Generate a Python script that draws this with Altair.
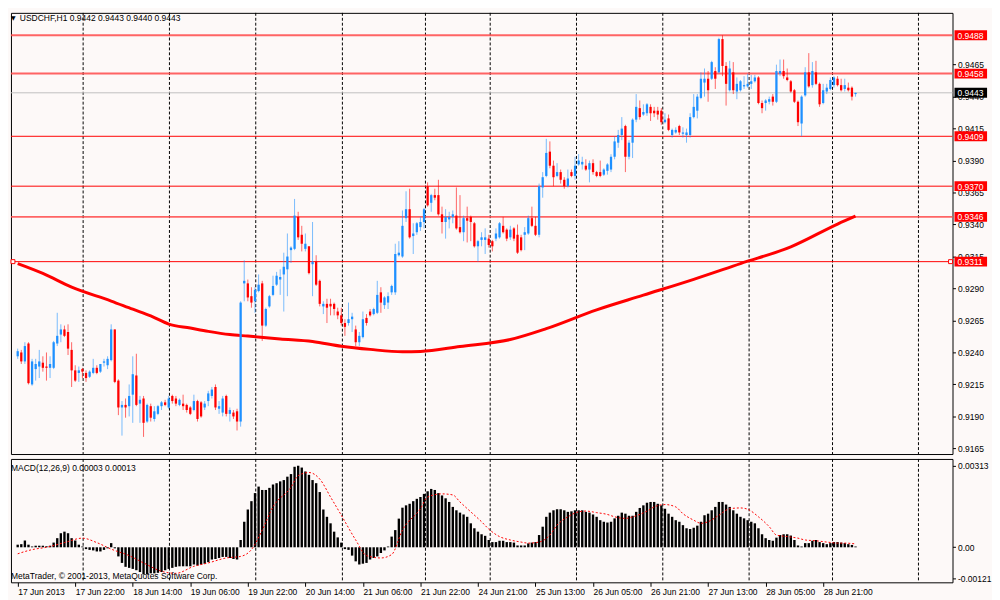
import json
import altair as alt
import pandas as pd

# ---------------- data ----------------
opens = [
0.9237, 0.9240, 0.9233, 0.9247, 0.9215, 0.9227, 0.9229, 0.9232, 0.9229, 0.9228,
0.9228, 0.9247, 0.9254, 0.9258, 0.9256, 0.9242, 0.9226, 0.9224, 0.9227, 0.9224,
0.9221, 0.9224, 0.9228, 0.9225, 0.9232, 0.9230, 0.9234, 0.9258, 0.9218, 0.9197,
0.9199, 0.9198, 0.9207, 0.9222, 0.9200, 0.9204, 0.9186, 0.9198, 0.9188, 0.9192,
0.9198, 0.9201, 0.9197, 0.9206, 0.9204, 0.9199, 0.9200, 0.9199, 0.9197, 0.9195,
0.9202, 0.9201, 0.9197, 0.9202, 0.9206, 0.9213, 0.9196, 0.9193, 0.9206, 0.9192,
0.9193, 0.9194, 0.9186, 0.9294, 0.9294, 0.9284, 0.9280, 0.9288, 0.9294, 0.9261,
0.9276, 0.9285, 0.9293, 0.9297, 0.9301, 0.9305, 0.9320, 0.9321, 0.9346, 0.9332,
0.9321, 0.9323, 0.9309, 0.9311, 0.9296, 0.9276, 0.9278, 0.9278, 0.9278, 0.9272,
0.9269, 0.9263, 0.9263, 0.9266, 0.9258, 0.9248, 0.9252, 0.9267, 0.9272, 0.9270,
0.9271, 0.9287, 0.9277, 0.9279, 0.9287, 0.9287, 0.9316, 0.9315, 0.9345, 0.9352,
0.9331, 0.9334, 0.9338, 0.9342, 0.9370, 0.9357, 0.9363, 0.9363, 0.9348, 0.9342,
0.9344, 0.9346, 0.9347, 0.9338, 0.9334, 0.9345, 0.9346, 0.9341, 0.9323, 0.9328,
0.9328, 0.9329, 0.9327, 0.9329, 0.9330, 0.9339, 0.9336, 0.9330, 0.9337, 0.9332,
0.9330, 0.9332, 0.9333, 0.9345, 0.9339, 0.9332, 0.9369, 0.9378, 0.9397, 0.9386,
0.9378, 0.9381, 0.9375, 0.9370, 0.9381, 0.9378, 0.9387, 0.9387, 0.9386, 0.9383,
0.9388, 0.9381, 0.9381, 0.9379, 0.9382, 0.9383, 0.9393, 0.9404, 0.9410, 0.9417,
0.9393, 0.9404, 0.9422, 0.9431, 0.9426, 0.9427, 0.9432, 0.9429, 0.9429, 0.9429,
0.9420, 0.9423, 0.9410, 0.9412, 0.9417, 0.9411, 0.9410, 0.9410, 0.9424, 0.9429,
0.9439, 0.9451, 0.9454, 0.9454, 0.9460, 0.9459, 0.9485, 0.9464, 0.9445, 0.9459,
0.9444, 0.9445, 0.9448, 0.9448, 0.9450, 0.9452, 0.9455, 0.9435, 0.9435, 0.9436,
0.9440, 0.9436, 0.9458, 0.9460, 0.9455, 0.9452, 0.9445, 0.9436, 0.9419, 0.9441,
0.9459, 0.9449, 0.9459, 0.9450, 0.9435, 0.9444, 0.9446, 0.9449, 0.9454, 0.9449,
0.9446, 0.9447, 0.9447, 0.9442]

closes = [
0.9241, 0.9233, 0.9245, 0.9216, 0.9233, 0.9231, 0.9233, 0.9228, 0.9228, 0.9231,
0.9248, 0.9253, 0.9258, 0.9253, 0.9243, 0.9226, 0.9218, 0.9226, 0.9225, 0.9220,
0.9225, 0.9228, 0.9224, 0.9231, 0.9233, 0.9235, 0.9258, 0.9217, 0.9197, 0.9199,
0.9197, 0.9206, 0.9223, 0.9199, 0.9203, 0.9185, 0.9199, 0.9189, 0.9194, 0.9198,
0.9201, 0.9199, 0.9204, 0.9202, 0.9200, 0.9203, 0.9198, 0.9195, 0.9192, 0.9202,
0.9188, 0.9190, 0.9200, 0.9208, 0.9211, 0.9197, 0.9198, 0.9204, 0.9192, 0.9195,
0.9190, 0.9186, 0.9279, 0.9296, 0.9283, 0.9279, 0.9289, 0.9293, 0.9261, 0.9274,
0.9284, 0.9292, 0.9300, 0.9299, 0.9307, 0.9315, 0.9322, 0.9347, 0.9330, 0.9325,
0.9325, 0.9302, 0.9311, 0.9293, 0.9278, 0.9278, 0.9275, 0.9276, 0.9274, 0.9269,
0.9263, 0.9260, 0.9266, 0.9268, 0.9248, 0.9253, 0.9266, 0.9263, 0.9269, 0.9274,
0.9285, 0.9279, 0.9283, 0.9284, 0.9292, 0.9317, 0.9318, 0.9339, 0.9352, 0.9330,
0.9333, 0.9341, 0.9342, 0.9352, 0.9355, 0.9363, 0.9361, 0.9348, 0.9342, 0.9346,
0.9346, 0.9348, 0.9337, 0.9334, 0.9345, 0.9343, 0.9342, 0.9323, 0.9327, 0.9330,
0.9330, 0.9324, 0.9323, 0.9333, 0.9341, 0.9334, 0.9329, 0.9336, 0.9329, 0.9318,
0.9320, 0.9334, 0.9345, 0.9339, 0.9332, 0.9370, 0.9377, 0.9396, 0.9386, 0.9377,
0.9381, 0.9375, 0.9370, 0.9376, 0.9378, 0.9386, 0.9390, 0.9389, 0.9383, 0.9388,
0.9381, 0.9378, 0.9378, 0.9383, 0.9387, 0.9393, 0.9405, 0.9410, 0.9415, 0.9393,
0.9404, 0.9422, 0.9432, 0.9424, 0.9428, 0.9434, 0.9427, 0.9427, 0.9426, 0.9420,
0.9422, 0.9414, 0.9414, 0.9414, 0.9412, 0.9412, 0.9412, 0.9424, 0.9432, 0.9440,
0.9454, 0.9454, 0.9445, 0.9467, 0.9454, 0.9485, 0.9464, 0.9450, 0.9462, 0.9445,
0.9450, 0.9452, 0.9449, 0.9450, 0.9452, 0.9455, 0.9435, 0.9431, 0.9437, 0.9438,
0.9436, 0.9460, 0.9460, 0.9456, 0.9453, 0.9444, 0.9436, 0.9420, 0.9440, 0.9459,
0.9448, 0.9460, 0.9450, 0.9434, 0.9445, 0.9447, 0.9453, 0.9455, 0.9449, 0.9445,
0.9449, 0.9445, 0.9440, 0.9443]

highs = [
0.9243, 0.9242, 0.9248, 0.9248, 0.9235, 0.9235, 0.9242, 0.9237, 0.9240, 0.9237,
0.9249, 0.9271, 0.9262, 0.9261, 0.9262, 0.9248, 0.9230, 0.9229, 0.9228, 0.9226,
0.9226, 0.9235, 0.9230, 0.9231, 0.9235, 0.9237, 0.9262, 0.9258, 0.9219, 0.9202,
0.9204, 0.9215, 0.9237, 0.9239, 0.9206, 0.9206, 0.9200, 0.9200, 0.9198, 0.9199,
0.9202, 0.9203, 0.9206, 0.9207, 0.9206, 0.9204, 0.9207, 0.9200, 0.9198, 0.9207,
0.9203, 0.9202, 0.9202, 0.9210, 0.9213, 0.9215, 0.9202, 0.9206, 0.9207, 0.9197,
0.9195, 0.9196, 0.9280, 0.9312, 0.9297, 0.9291, 0.9291, 0.9301, 0.9296, 0.9275,
0.9285, 0.9300, 0.9303, 0.9305, 0.9318, 0.9333, 0.9323, 0.9360, 0.9350, 0.9339,
0.9333, 0.9323, 0.9342, 0.9316, 0.9297, 0.9280, 0.9282, 0.9282, 0.9279, 0.9275,
0.9275, 0.9266, 0.9279, 0.9271, 0.9261, 0.9256, 0.9272, 0.9270, 0.9274, 0.9275,
0.9296, 0.9291, 0.9284, 0.9287, 0.9293, 0.9325, 0.9327, 0.9351, 0.9366, 0.9368,
0.9341, 0.9342, 0.9346, 0.9353, 0.9373, 0.9364, 0.9368, 0.9375, 0.9354, 0.9352,
0.9350, 0.9351, 0.9369, 0.9363, 0.9347, 0.9354, 0.9347, 0.9342, 0.9328, 0.9334,
0.9337, 0.9332, 0.9328, 0.9337, 0.9342, 0.9346, 0.9337, 0.9339, 0.9338, 0.9340,
0.9332, 0.9338, 0.9347, 0.9354, 0.9346, 0.9372, 0.9381, 0.9407, 0.9405, 0.9390,
0.9388, 0.9383, 0.9377, 0.9383, 0.9383, 0.9393, 0.9395, 0.9393, 0.9391, 0.9390,
0.9391, 0.9382, 0.9390, 0.9384, 0.9388, 0.9395, 0.9409, 0.9414, 0.9424, 0.9418,
0.9406, 0.9423, 0.9442, 0.9437, 0.9434, 0.9435, 0.9434, 0.9432, 0.9432, 0.9431,
0.9427, 0.9426, 0.9415, 0.9416, 0.9418, 0.9416, 0.9415, 0.9427, 0.9442, 0.9442,
0.9459, 0.9462, 0.9460, 0.9468, 0.9463, 0.9486, 0.9488, 0.9467, 0.9468, 0.9467,
0.9455, 0.9453, 0.9456, 0.9458, 0.9457, 0.9457, 0.9456, 0.9437, 0.9438, 0.9440,
0.9442, 0.9465, 0.9469, 0.9469, 0.9462, 0.9453, 0.9446, 0.9437, 0.9441, 0.9463,
0.9474, 0.9467, 0.9468, 0.9451, 0.9450, 0.9450, 0.9455, 0.9456, 0.9456, 0.9454,
0.9454, 0.9451, 0.9448, 0.9443]

lows = [
0.9235, 0.9231, 0.9231, 0.9215, 0.9214, 0.9218, 0.9220, 0.9225, 0.9218, 0.9220,
0.9227, 0.9245, 0.9248, 0.9252, 0.9238, 0.9213, 0.9217, 0.9217, 0.9220, 0.9217,
0.9220, 0.9223, 0.9223, 0.9224, 0.9229, 0.9227, 0.9233, 0.9216, 0.9191, 0.9175,
0.9189, 0.9190, 0.9185, 0.9198, 0.9185, 0.9174, 0.9185, 0.9186, 0.9186, 0.9191,
0.9195, 0.9198, 0.9196, 0.9200, 0.9198, 0.9198, 0.9195, 0.9193, 0.9191, 0.9194,
0.9186, 0.9189, 0.9195, 0.9198, 0.9204, 0.9195, 0.9192, 0.9190, 0.9190, 0.9186,
0.9188, 0.9179, 0.9182, 0.9280, 0.9280, 0.9275, 0.9271, 0.9287, 0.9249, 0.9260,
0.9275, 0.9284, 0.9292, 0.9285, 0.9272, 0.9284, 0.9310, 0.9320, 0.9328, 0.9319,
0.9319, 0.9301, 0.9284, 0.9292, 0.9276, 0.9270, 0.9263, 0.9269, 0.9269, 0.9266,
0.9261, 0.9253, 0.9261, 0.9256, 0.9245, 0.9245, 0.9251, 0.9261, 0.9268, 0.9269,
0.9270, 0.9271, 0.9274, 0.9274, 0.9285, 0.9285, 0.9315, 0.9314, 0.9342, 0.9329,
0.9317, 0.9332, 0.9335, 0.9337, 0.9354, 0.9350, 0.9359, 0.9347, 0.9333, 0.9329,
0.9337, 0.9341, 0.9336, 0.9333, 0.9327, 0.9326, 0.9327, 0.9322, 0.9311, 0.9323,
0.9317, 0.9322, 0.9319, 0.9327, 0.9329, 0.9333, 0.9327, 0.9328, 0.9327, 0.9317,
0.9319, 0.9320, 0.9332, 0.9338, 0.9331, 0.9330, 0.9361, 0.9377, 0.9384, 0.9370,
0.9377, 0.9372, 0.9368, 0.9369, 0.9377, 0.9375, 0.9386, 0.9383, 0.9382, 0.9373,
0.9379, 0.9377, 0.9377, 0.9378, 0.9379, 0.9381, 0.9391, 0.9400, 0.9406, 0.9381,
0.9391, 0.9392, 0.9420, 0.9422, 0.9425, 0.9425, 0.9421, 0.9424, 0.9422, 0.9418,
0.9419, 0.9413, 0.9408, 0.9411, 0.9410, 0.9408, 0.9404, 0.9408, 0.9423, 0.9423,
0.9438, 0.9440, 0.9436, 0.9453, 0.9446, 0.9458, 0.9456, 0.9433, 0.9444, 0.9442,
0.9438, 0.9444, 0.9446, 0.9447, 0.9446, 0.9451, 0.9434, 0.9427, 0.9429, 0.9434,
0.9433, 0.9435, 0.9456, 0.9454, 0.9452, 0.9443, 0.9435, 0.9417, 0.9409, 0.9440,
0.9447, 0.9447, 0.9449, 0.9432, 0.9434, 0.9442, 0.9445, 0.9447, 0.9448, 0.9444,
0.9444, 0.9444, 0.9437, 0.9440]

# MACD main line (histogram) in units of 1e-5
macd_e5 = [
10, 12, 26, 10, 3, 6, 6, 6, 4, 6,
18, 35, 54, 60, 54, 35, 26, 10, 3, -7,
-10, -12, -16, -16, -10, -4, 16, -4, -35, -60,
-75, -79, -83, -88, -95, -104, -104, -100, -100, -98,
-95, -88, -83, -79, -75, -73, -73, -73, -73, -66,
-70, -66, -63, -57, -47, -45, -41, -37, -37, -41,
-45, -47, 28, 98, 145, 177, 208, 233, 220, 220,
228, 241, 246, 253, 258, 271, 281, 309, 313, 306,
291, 278, 258, 246, 212, 145, 117, 92, 60, 38,
18, -7, -10, -32, -54, -66, -63, -60, -47, -41,
-35, -22, -12, 3, 41, 66, 110, 152, 161, 167,
177, 186, 193, 205, 215, 224, 220, 208, 199, 188,
174, 155, 142, 133, 126, 117, 92, 73, 60, 50,
44, 28, 20, 20, 25, 25, 20, 20, 18, 7,
7, 7, 15, 18, 20, 47, 79, 117, 133, 142,
146, 146, 142, 136, 138, 142, 142, 142, 136, 133,
126, 117, 104, 98, 95, 98, 111, 121, 133, 129,
121, 121, 136, 151, 161, 171, 174, 174, 167, 161,
148, 129, 117, 104, 98, 85, 73, 70, 75, 83,
98, 123, 129, 142, 155, 174, 174, 164, 155, 142,
129, 117, 111, 104, 98, 92, 73, 50, 35, 28,
25, 37, 47, 50, 50, 45, 28, 7, 3, 16,
16, 25, 28, 20, 16, 12, 16, 20, 20, 18,
16, 12, 9, 3]

# MACD signal line, sampled (bar index, value in 1e-5)
signal_bar = [0, 4, 8, 13, 18, 22, 26, 31, 35, 40, 44, 49, 53, 58, 62, 65, 68, 71, 76, 78,
              81, 84, 87, 90, 94, 97, 101, 104, 107, 112, 114, 118, 121, 123, 126, 129, 131, 134, 137, 140,
              142, 145, 148, 150, 153, 156, 158, 161, 164, 166, 169, 172, 175, 177, 180, 183, 185, 188, 190, 192,
              195, 198, 201, 203, 206, 209, 211, 214, 217, 219, 222, 225, 228, 230, 233]
signal_e5 = [-25, -9, 0, 18, 35, 18, -7, -32, -60, -92, -100, -73, -60, -41, -35, -9, 66, 155, 230, 275,
             287, 262, 193, 123, 28, -32, -41, -28, 66, 148, 193, 205, 201, 174, 136, 98, 70, 41, 28, 20,
             16, 20, 47, 85, 117, 136, 139, 133, 126, 117, 111, 121, 139, 155, 164, 155, 129, 104, 92, 98,
             123, 148, 151, 146, 117, 79, 47, 41, 35, 28, 25, 20, 16, 16, 13]

# moving average (thick red line), sampled
ma_bar = [0, 7, 15, 26, 32, 37, 42, 48, 53, 59, 64, 73, 82, 90, 98, 107, 112, 123, 137, 147,
          161, 174, 188, 201, 215, 228, 233]
ma_price = [0.93095, 0.93018, 0.92910, 0.92802, 0.92738, 0.92686, 0.92622, 0.92591, 0.92565, 0.92540,
            0.92528, 0.92506, 0.92486, 0.92449, 0.92424, 0.92405, 0.92408, 0.92447, 0.92501, 0.92586,
            0.92733, 0.92848, 0.92972, 0.93095, 0.93226, 0.93404, 0.93466]

# day separators (bar positions)
sep_bar = [18.2, 42.2, 66.2, 90.3, 113.4, 131.4, 155.4, 179.4, 203.4, 226.6, 250.5]

tick_bar = [0, 16, 32, 48, 64, 80, 96, 112, 128, 144, 160, 176, 192, 208, 224]
tick_text = ["17 Jun 2013", "17 Jun 22:00", "18 Jun 14:00", "19 Jun 06:00", "19 Jun 22:00",
             "20 Jun 14:00", "21 Jun 06:00", "21 Jun 22:00", "24 Jun 21:00", "25 Jun 13:00",
             "26 Jun 05:00", "26 Jun 21:00", "27 Jun 13:00", "28 Jun 05:00", "28 Jun 21:00"]

price_ticks = [0.9165, 0.9190, 0.9215, 0.9240, 0.9265, 0.9290, 0.9315, 0.9340,
               0.9365, 0.9390, 0.9415, 0.9440, 0.9465]
macd_ticks = [0.00313, 0.0, -0.00121]

levels_bold = [0.9488, 0.9458, 0.9346]
levels_thin = [0.9409, 0.9370, 0.9311]
anchored_level = [0.9311]
bid = [0.9443]

symbol = "USDCHF,H1"
copyright_text = "MetaTrader, \u00a9 2001-2013, MetaQuotes Software Corp."

# ---------------- frames ----------------
n = min(len(opens), len(highs), len(lows), len(closes))
bars = pd.DataFrame({"i": list(range(n)), "o": opens[:n], "h": highs[:n],
                     "l": lows[:n], "c": closes[:n]})
bars["dir"] = ["up" if c >= o else "down" for o, c in zip(bars["o"], bars["c"])]

macd_df = pd.DataFrame({"i": list(range(len(macd_e5))),
                        "m": [v * 1e-5 for v in macd_e5], "z": 0.0})
sig_df = pd.DataFrame({"i": signal_bar, "s": [v * 1e-5 for v in signal_e5]})
ma_df = pd.DataFrame({"i": ma_bar, "p": ma_price})
sep_df = pd.DataFrame({"x": sep_bar})
lv_bold = pd.DataFrame({"p": levels_bold})
lv_thin = pd.DataFrame({"p": levels_thin})
lv_all = pd.DataFrame({"p": levels_bold + levels_thin})
anch_df = pd.DataFrame({"p": anchored_level})
bid_df = pd.DataFrame({"p": bid})

title_text = f"{symbol}  {opens[n-1]:.4f} {highs[n-1]:.4f} {lows[n-1]:.4f} {closes[n-1]:.4f}"
macd_title = f"MACD(12,26,9) {macd_e5[-1]*1e-5:.5f} {signal_e5[-1]*1e-5:.5f}"

# ---------------- styling ----------------
FONT = "Liberation Sans"
FS = 8.6
W, H1, H2 = 954, 447, 125
RED = "#ff0000"
BLUE = "#1e90ff"
BG = "#fdf9f8"

xs = alt.Scale(domain=[-0.5, 258.6], nice=False, zero=False)
ys = alt.Scale(domain=[0.91606, 0.95055], nice=False, zero=False)
ms = alt.Scale(domain=[-0.001345, 0.00339], nice=False, zero=False)

price_axis = alt.Axis(orient="right", values=price_ticks, format=".4f", title=None,
                      tickSize=3, tickColor="black", labelPadding=2, labelColor="black",
                      labelFont=FONT, labelFontSize=FS, domain=False, grid=False,
                      labelFlush=False, labelOverlap=False)

macd_labels = ["0.00" if v == 0 else f"{v:.5f}" for v in macd_ticks]
macd_axis = alt.Axis(orient="right", values=macd_ticks, title=None,
                     labelExpr=f"{json.dumps(macd_labels)}[indexof({json.dumps(macd_ticks)}, datum.value)]",
                     tickSize=3, tickColor="black", labelPadding=2, labelColor="black",
                     labelFont=FONT, labelFontSize=FS, domain=False, grid=False,
                     labelFlush=False, labelOverlap=False)

time_axis = alt.Axis(orient="bottom", values=tick_bar, title=None,
                     labelExpr=f"{json.dumps(tick_text)}[indexof({json.dumps(tick_bar)}, datum.value)]",
                     labelAlign="left", tickSize=4, tickColor="black", labelPadding=1,
                     labelColor="black", labelFont=FONT, labelFontSize=FS, domain=False,
                     grid=False, labelFlush=False, labelOverlap=False)


def X(field):
    return alt.X(field, type="quantitative", scale=xs, axis=None)


def XB(field):
    return alt.X(field, type="quantitative", scale=xs, axis=time_axis)


def Y(field):
    return alt.Y(field, type="quantitative", scale=ys, axis=price_axis)


def YM(field):
    return alt.Y(field, type="quantitative", scale=ms, axis=macd_axis)


color_dir = alt.Color("dir:N", scale=alt.Scale(domain=["up", "down"], range=[BLUE, RED]), legend=None)

# ---------------- main price panel ----------------
seps = alt.Chart(sep_df).mark_rule(color="black", strokeDash=[3, 2], strokeWidth=1).encode(x=X("x"))
l_bold = alt.Chart(lv_bold).mark_rule(color="#ff4a4a", strokeWidth=2, opacity=0.85).encode(y=Y("p"))
l_thin = alt.Chart(lv_thin).mark_rule(color=RED, strokeWidth=1).encode(y=Y("p"))
l_bid = alt.Chart(bid_df).mark_rule(color="#c0c0c0", strokeWidth=1).encode(y=Y("p"))
ma_line = alt.Chart(ma_df).mark_line(color=RED, strokeWidth=3, interpolate="monotone").encode(
    x=X("i"), y=Y("p"))
wicks = alt.Chart(bars).mark_rule(strokeWidth=1, opacity=0.6).encode(
    x=X("i"), y=Y("l"), y2="h:Q", color=color_dir)
bodies = alt.Chart(bars).mark_bar(size=2.3).encode(
    x=X("i"), y=Y("o"), y2="c:Q", color=color_dir)
sq_right = alt.Chart(anch_df).mark_square(size=16, color="white", stroke=RED, strokeWidth=1,
                                          opacity=1).encode(x=alt.value(952), y=Y("p"))
sq_left = alt.Chart(anch_df).mark_square(size=16, color="white", stroke=RED, strokeWidth=1,
                                         opacity=1).encode(x=alt.value(2), y=Y("p"))
boxes = alt.Chart(lv_all).mark_rect(color=RED, yOffset=-5, y2Offset=5).encode(
    x=alt.value(956), x2=alt.value(989), y=Y("p"), y2="p:Q")
box_txt = alt.Chart(lv_all).mark_text(align="left", baseline="middle", color="white",
                                      font=FONT, fontSize=FS, dy=0.5).encode(
    x=alt.value(959), y=Y("p"), text=alt.Text("p:Q", format=".4f"))
bid_box = alt.Chart(bid_df).mark_rect(color="black", yOffset=-5, y2Offset=5).encode(
    x=alt.value(956), x2=alt.value(989), y=Y("p"), y2="p:Q")
bid_txt = alt.Chart(bid_df).mark_text(align="left", baseline="middle", color="white",
                                      font=FONT, fontSize=FS, dy=0.5).encode(
    x=alt.value(959), y=Y("p"), text=alt.Text("p:Q", format=".4f"))
tri = alt.Chart(pd.DataFrame({"t": ["\u25bc"]})).mark_text(
    align="left", baseline="middle", font="DejaVu Sans", fontSize=6, color="black").encode(
    x=alt.value(0), y=alt.value(5), text="t:N")
ttl = alt.Chart(pd.DataFrame({"t": [title_text]})).mark_text(
    align="left", baseline="middle", font=FONT, fontSize=FS, color="black").encode(
    x=alt.value(9), y=alt.value(5), text="t:N")

main = alt.layer(seps, l_bold, l_thin, l_bid, ma_line, wicks, bodies, sq_left, sq_right,
                 boxes, box_txt, bid_box, bid_txt, tri, ttl).properties(width=W, height=H1)

# ---------------- MACD panel ----------------
seps2 = alt.Chart(sep_df).mark_rule(color="black", strokeDash=[3, 2], strokeWidth=1).encode(x=XB("x"))
hist = alt.Chart(macd_df).mark_bar(size=2.4, color="black").encode(
    x=XB("i"), y=YM("m"), y2="z:Q")
sig = alt.Chart(sig_df).mark_line(color=RED, strokeDash=[2, 2], strokeWidth=1,
                                  interpolate="monotone").encode(x=XB("i"), y=YM("s"))
mt = alt.Chart(pd.DataFrame({"t": [macd_title]})).mark_text(
    align="left", baseline="middle", font=FONT, fontSize=FS, color="black").encode(
    x=alt.value(0), y=alt.value(9), text="t:N")
cp = alt.Chart(pd.DataFrame({"t": [copyright_text]})).mark_text(
    align="left", baseline="middle", font=FONT, fontSize=FS, color="black").encode(
    x=alt.value(0), y=alt.value(119), text="t:N")

macd = alt.layer(seps2, hist, sig, mt, cp).properties(width=W, height=H2)

chart = alt.vconcat(main, macd, spacing=3).properties(
    background=BG, padding=0
).configure_view(stroke="black", strokeWidth=1)

chart.save("out.html", embed_options={"renderer": "svg", "actions": False})
